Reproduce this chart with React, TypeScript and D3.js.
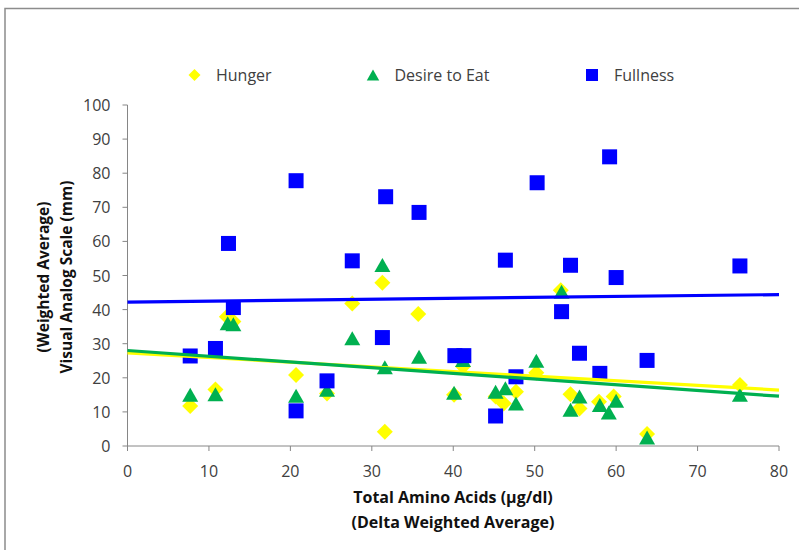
import React from "react";
import * as d3 from "d3";

const xTicks = [0, 10, 20, 30, 40, 50, 60, 70, 80];
const yTicks = [0, 10, 20, 30, 40, 50, 60, 70, 80, 90, 100];

const hungerX = [7.7, 10.8, 12.2, 13.0, 20.7, 24.5, 27.6, 31.3, 31.6, 35.7, 40.1, 41.2, 45.2, 46.2, 47.7, 50.2, 53.2, 54.4, 55.5, 57.9, 59.7, 63.8, 75.2];
const hungerY = [11.7, 16.6, 37.9, 36.5, 20.8, 15.4, 41.8, 47.9, 4.2, 38.7, 15.0, 23.3, 14.5, 12.5, 15.9, 21.5, 45.7, 15.2, 11.0, 13.0, 14.5, 3.5, 17.9];

const desireX = [7.7, 10.8, 12.3, 13.0, 20.7, 24.5, 27.6, 31.3, 31.6, 35.8, 40.1, 41.2, 45.2, 46.4, 47.7, 50.2, 53.3, 54.4, 55.5, 58.0, 59.1, 60.0, 63.8, 75.2];
const desireY = [15.0, 15.2, 36.0, 35.7, 14.7, 16.5, 31.6, 53.1, 23.1, 26.2, 15.6, 25.2, 15.9, 16.9, 12.5, 25.0, 45.2, 10.6, 14.5, 12.0, 9.8, 13.3, 2.5, 15.0];

const fullnessX = [7.7, 10.8, 12.4, 13.0, 20.7, 20.7, 24.5, 27.6, 31.7, 31.3, 35.8, 40.2, 41.3, 45.2, 46.4, 47.7, 50.3, 53.3, 54.4, 55.5, 58.0, 59.2, 60.0, 63.8, 75.2];
const fullnessY = [26.4, 28.6, 59.4, 40.6, 77.8, 10.3, 19.1, 54.3, 73.1, 31.8, 68.5, 26.5, 26.5, 8.8, 54.5, 20.3, 77.2, 39.4, 53.0, 27.2, 21.3, 84.8, 49.4, 25.1, 52.8];

const trendX = [0, 80];
const hungerTrend = [27.3, 16.4];
const desireTrend = [28.0, 14.6];
const fullnessTrend = [42.2, 44.4];

const seriesNames = ["Hunger", "Desire to Eat", "Fullness"];
const YELLOW = "#FFFF00";
const GREEN = "#00B050";
const BLUE = "#0000FF";

const FONT = "'Open Sans', 'DejaVu Sans', sans-serif";

function diamond(cx: number, cy: number, r: number) {
  return `M${cx},${cy - r}L${cx + r},${cy}L${cx},${cy + r}L${cx - r},${cy}Z`;
}
function triangle(cx: number, cy: number, w: number, h: number) {
  return `M${cx},${cy - h / 2}L${cx + w / 2},${cy + h / 2}L${cx - w / 2},${cy + h / 2}Z`;
}

export default function App() {
  const W = 799;
  const H = 550;
  const x = d3.scaleLinear().domain([0, 80]).range([127.5, 779]);
  const y = d3.scaleLinear().domain([0, 100]).range([446, 105]);
  const line = d3
    .line<[number, number]>()
    .x((d) => x(d[0]))
    .y((d) => y(d[1]));

  const trend = (vals: number[]) => line(trendX.map((t, i) => [t, vals[i]] as [number, number])) || "";

  const axisColor = "#868686";
  const tickText = "#404040";

  return (
    <svg
      width={W}
      height={H}
      style={{ position: "absolute", left: 0, top: 0, background: "#fff" }}
      fontFamily={FONT}
    >
      <rect x={0} y={0} width={W} height={H} fill="#fff" />
      {/* chart frame */}
      <path d={`M5,${H + 5}V8.5H${W + 5}`} fill="none" stroke="#8c8c8c" strokeWidth={1.5} />

      {/* legend */}
      <g fontSize={16} fill={tickText}>
        <path d={diamond(194.5, 75, 6)} fill={YELLOW} />
        <text x={216} y={75} dominantBaseline="central">{seriesNames[0]}</text>
        <path d={triangle(373, 75, 12.5, 11)} fill={GREEN} />
        <text x={394.5} y={75} dominantBaseline="central">{seriesNames[1]}</text>
        <rect x={592 - 6} y={75 - 6} width={12} height={12} fill={BLUE} />
        <text x={614} y={75} dominantBaseline="central">{seriesNames[2]}</text>
      </g>

      {/* axes */}
      <g stroke={axisColor} strokeWidth={1} fill="none">
        <line x1={x(0)} x2={x(0)} y1={y(100)} y2={y(0)} />
        <line x1={x(0)} x2={x(80)} y1={y(0)} y2={y(0)} />
        {yTicks.map((t) => (
          <line key={"yt" + t} x1={x(0) - 5} x2={x(0)} y1={y(t)} y2={y(t)} />
        ))}
        {xTicks.map((t) => (
          <line key={"xt" + t} x1={x(t)} x2={x(t)} y1={y(0)} y2={y(0) + 5} />
        ))}
      </g>
      <g fontSize={16} fill={tickText}>
        {yTicks.map((t) => (
          <text key={"yl" + t} x={x(0) - 17} y={y(t)} textAnchor="end" dominantBaseline="central">
            {t}
          </text>
        ))}
        {xTicks.map((t) => (
          <text key={"xl" + t} x={x(t)} y={y(0) + 25} textAnchor="middle" dominantBaseline="central">
            {t}
          </text>
        ))}
      </g>

      {/* axis titles */}
      <g fontWeight="bold" fill="#111" textAnchor="middle">
        <text x={453} y={497} fontSize={16} dominantBaseline="central">Total Amino Acids (µg/dl)</text>
        <text x={453} y={522} fontSize={16} dominantBaseline="central">(Delta Weighted Average)</text>
        <text transform="translate(43,277) rotate(-90)" fontSize={15.5} dominantBaseline="central">(Weighted Average)</text>
        <text transform="translate(66,277) rotate(-90)" fontSize={15.5} dominantBaseline="central">Visual Analog Scale (mm)</text>
      </g>

      {/* markers */}
      <g fill={YELLOW}>
        {hungerX.map((v, i) => (
          <path key={"h" + i} d={diamond(x(v), y(hungerY[i]), 8)} />
        ))}
      </g>
      <g fill={GREEN}>
        {desireX.map((v, i) => (
          <path key={"d" + i} d={triangle(x(v), y(desireY[i]), 16, 14)} />
        ))}
      </g>
      <g fill={BLUE}>
        {fullnessX.map((v, i) => (
          <rect key={"f" + i} x={x(v) - 7.5} y={y(fullnessY[i]) - 7.5} width={15} height={15} />
        ))}
      </g>

      {/* trend lines */}
      <g fill="none" strokeWidth={3.2}>
        <path d={trend(hungerTrend)} stroke={YELLOW} />
        <path d={trend(desireTrend)} stroke={GREEN} />
        <path d={trend(fullnessTrend)} stroke={BLUE} />
      </g>
    </svg>
  );
}
